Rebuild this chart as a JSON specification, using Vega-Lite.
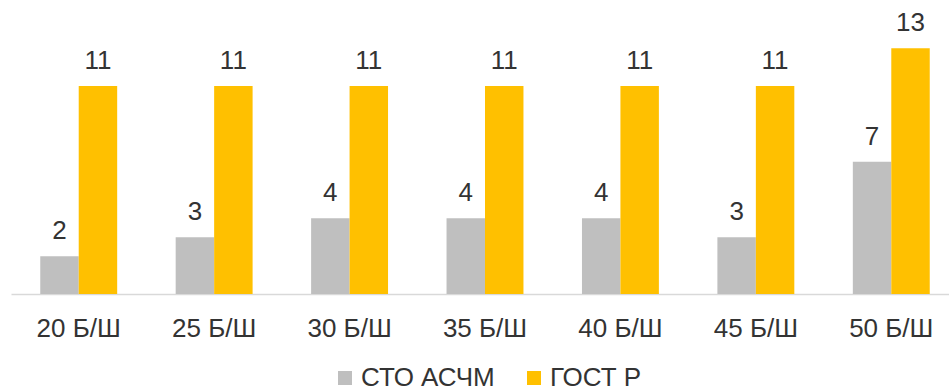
{
  "$schema": "https://vega.github.io/schema/vega-lite/v6.json",
  "width": 948,
  "height": 294,
  "padding": {"left": 11, "top": 0, "right": 0, "bottom": 0},
  "background": "white",
  "config": {
    "view": {"stroke": null},
    "font": "Liberation Sans",
    "text": {"font": "Liberation Sans"}
  },
  "data": {
    "values": [
      {"cat": "20 Б/Ш", "series": "СТО АСЧМ", "value": 2},
      {"cat": "20 Б/Ш", "series": "ГОСТ Р", "value": 11},
      {"cat": "25 Б/Ш", "series": "СТО АСЧМ", "value": 3},
      {"cat": "25 Б/Ш", "series": "ГОСТ Р", "value": 11},
      {"cat": "30 Б/Ш", "series": "СТО АСЧМ", "value": 4},
      {"cat": "30 Б/Ш", "series": "ГОСТ Р", "value": 11},
      {"cat": "35 Б/Ш", "series": "СТО АСЧМ", "value": 4},
      {"cat": "35 Б/Ш", "series": "ГОСТ Р", "value": 11},
      {"cat": "40 Б/Ш", "series": "СТО АСЧМ", "value": 4},
      {"cat": "40 Б/Ш", "series": "ГОСТ Р", "value": 11},
      {"cat": "45 Б/Ш", "series": "СТО АСЧМ", "value": 3},
      {"cat": "45 Б/Ш", "series": "ГОСТ Р", "value": 11},
      {"cat": "50 Б/Ш", "series": "СТО АСЧМ", "value": 7},
      {"cat": "50 Б/Ш", "series": "ГОСТ Р", "value": 13}
    ]
  },
  "encoding": {
    "x": {
      "field": "cat", "type": "nominal", "sort": null,
      "scale": {"paddingInner": 0.432, "paddingOuter": 0.216},
      "axis": {
        "title": null, "labelAngle": 0, "ticks": false, "grid": false,
        "domainColor": "#D9D9D9", "domainWidth": 1.5,
        "labelFont": "Liberation Sans", "labelFontSize": 26, "labelColor": "#333333",
        "labelPadding": 21
      }
    },
    "xOffset": {"field": "series", "type": "nominal", "sort": ["СТО АСЧМ", "ГОСТ Р"], "scale": {"paddingInner": 0}},
    "y": {
      "field": "value", "type": "quantitative",
      "scale": {"domain": [0, 15.55], "nice": false, "zero": true},
      "axis": null
    }
  },
  "layer": [
    {
      "mark": {"type": "bar"},
      "encoding": {
        "color": {
          "field": "series", "type": "nominal",
          "scale": {"domain": ["СТО АСЧМ", "ГОСТ Р"], "range": ["#BFBFBF", "#FFC000"]},
          "legend": {
            "title": null, "orient": "none", "direction": "horizontal",
            "legendX": 321, "legendY": 365,
            "symbolType": "square", "symbolSize": 196, "symbolStrokeWidth": 0,
            "labelFont": "Liberation Sans", "labelFontSize": 26, "labelColor": "#333333",
            "labelOffset": 3, "columnPadding": 26, "labelLimit": 300
          }
        }
      }
    },
    {
      "mark": {"type": "text", "baseline": "alphabetic", "dy": -17, "fontSize": 26, "color": "#333333", "font": "Liberation Sans"},
      "encoding": {
        "text": {"field": "value", "type": "quantitative"}
      }
    }
  ]
}
